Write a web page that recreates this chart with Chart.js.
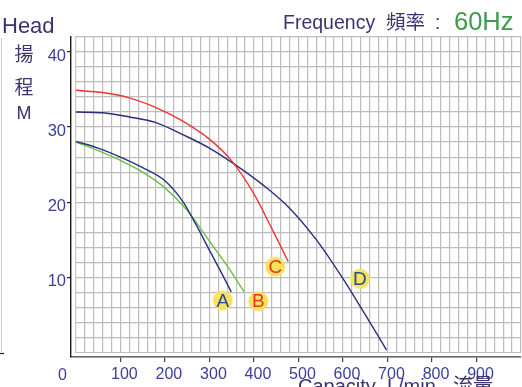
<!DOCTYPE html>
<html>
<head>
<meta charset="utf-8">
<script src="https://cdn.jsdelivr.net/npm/chart.js@4/dist/chart.umd.min.js"></script>
<style>
  html, body { margin: 0; padding: 0; background: #fff; overflow: hidden; }
  canvas { display: block; }
</style>
</head>
<body>
<canvas id="pumpChart" width="522" height="387"></canvas>
<script>
// Pump curves at 60Hz: capacity (L/min) against head (m)
const flowA = [0, 50, 100, 150, 200, 240, 270, 300, 325, 349];
const headA = [28.1, 27.2, 26.0, 24.6, 22.85, 20.1, 17.0, 13.6, 10.8, 8.05];

const flowB = [0, 50, 100, 150, 200, 250, 300, 340, 378];
const headB = [28.0, 26.85, 25.55, 24.0, 21.9, 18.9, 14.8, 11.5, 8.05];

const flowC = [0, 60, 120, 180, 240, 300, 350, 400, 440, 477];
const headC = [34.9, 34.6, 33.9, 32.6, 30.8, 28.4, 25.5, 21.1, 16.5, 12.1];

const flowD = [0, 60, 120, 180, 240, 300, 360, 420, 480, 540, 600, 650, 698];
const headD = [32.0, 31.9, 31.35, 30.6, 29.0, 27.2, 24.9, 22.3, 19.2, 15.0, 9.8, 5.0, 0.3];

// curve tags and where their badges sit
const curveNames = ['A', 'B', 'C', 'D'];
const tagFlow = [330, 410, 448, 638];
const tagHead = [6.9, 6.8, 11.4, 9.8];

const xTicks = [100, 200, 300, 400, 500, 600, 700, 800, 900];
const yTicks = [10, 20, 30, 40];

const TEXT = '#3c336f';
const TICK = '#3b3f9a';
const tagColors = { A: '#2c47a0', B: '#e8322a', C: '#e8322a', D: '#2c47a0' };

const pts = (xs, ys) => xs.map((x, i) => ({ x, y: ys[i] }));

const curve = (label, xs, ys, color) => ({
    label,
    data: pts(xs, ys),
    borderColor: color,
    borderWidth: 1.4,
    pointRadius: 0,
    cubicInterpolationMode: 'monotone',
    fill: false
});

// white gap between the axis lines and the grid
const gapPlugin = {
    id: 'gap',
    beforeDatasetsDraw(chart) {
        const { ctx, chartArea: a, scales } = chart;
        const x0 = scales.x.getPixelForValue(0);
        const y0 = scales.y.getPixelForValue(0);
        ctx.save();
        ctx.fillStyle = '#fff';
        ctx.fillRect(a.left + 0.8, a.top - 1, x0 - a.left - 1.5, a.bottom - a.top);
        ctx.fillRect(a.left + 0.8, y0 + 0.7, a.right - a.left + 2, a.bottom - y0 - 1.5);
        ctx.restore();
    }
};

const textPlugin = {
    id: 'texts',
    afterDraw(chart) {
        const ctx = chart.ctx;
        ctx.save();
        ctx.textBaseline = 'alphabetic';
        ctx.textAlign = 'left';

        ctx.fillStyle = TEXT;
        ctx.font = '22px "Liberation Sans"';
        ctx.fillText('Head', 2, 33);

        ctx.textAlign = 'center';
        ctx.textBaseline = 'middle';
        ctx.font = '19px "Noto Sans CJK TC"';
        ctx.fillText('揚', 24, 54);
        ctx.fillText('程', 24, 87);
        ctx.font = '18px "Liberation Sans"';
        ctx.fillText('M', 24, 114);

        ctx.textAlign = 'left';
        ctx.textBaseline = 'alphabetic';
        ctx.font = '19.5px "Liberation Sans"';
        ctx.fillText('Frequency', 283, 29);
        ctx.font = '19.5px "Noto Sans CJK TC"';
        ctx.fillText('頻率', 386, 29);
        ctx.font = '19.5px "Liberation Sans"';
        ctx.fillText(':', 435, 29);
        ctx.fillStyle = '#3d9b4b';
        ctx.font = '25.5px "Liberation Sans"';
        ctx.fillText('60Hz', 454, 30);

        ctx.fillStyle = TICK;
        ctx.font = '16px "Liberation Sans"';
        ctx.textAlign = 'center';
        ctx.fillText('0', 62.5, 380);

        ctx.fillStyle = TEXT;
        ctx.textAlign = 'left';
        ctx.font = '20px "Liberation Sans"';
        ctx.fillText('Capacity  L/min', 298, 393);
        ctx.font = '20px "Noto Sans CJK TC"';
        ctx.fillText('流量', 453, 393);

        // faint frame line on the far left
        ctx.strokeStyle = '#cfcfcf';
        ctx.lineWidth = 1.2;
        ctx.beginPath();
        ctx.moveTo(1.5, 38);
        ctx.lineTo(1.5, 352);
        ctx.stroke();
        ctx.strokeStyle = '#222';
        ctx.beginPath();
        ctx.moveTo(0, 353.5);
        ctx.lineTo(4, 353.5);
        ctx.stroke();

        // letters on the curve badges
        const meta = chart.getDatasetMeta(4);
        ctx.font = '19px "Liberation Sans"';
        ctx.textAlign = 'center';
        ctx.textBaseline = 'middle';
        meta.data.forEach((p, i) => {
            ctx.fillStyle = tagColors[curveNames[i]];
            ctx.fillText(curveNames[i], p.x, p.y + 1);
        });
        ctx.restore();
    }
};

new Chart(document.getElementById('pumpChart'), {
    type: 'line',
    data: {
        datasets: [
            curve('A', flowA, headA, '#2b2f7c'),
            curve('B', flowB, headB, '#6dbd45'),
            curve('C', flowC, headC, '#ee3333'),
            curve('D', flowD, headD, '#2b2f7c'),
            {
                label: 'tags',
                data: pts(tagFlow, tagHead),
                showLine: false,
                pointRadius: 9.5,
                pointHoverRadius: 9.5,
                pointBackgroundColor: '#f5e35a',
                pointBorderColor: 'rgba(245, 227, 90, 0.45)',
                pointBorderWidth: 2
            }
        ]
    },
    options: {
        responsive: false,
        animation: false,
        events: [],
        layout: { autoPadding: false, padding: { top: 37, right: 1, left: 0, bottom: 0 } },
        plugins: {
            legend: { display: false },
            tooltip: { enabled: false }
        },
        scales: {
            x: {
                type: 'linear',
                min: -11,
                max: 1000,
                afterBuildTicks: axis => {
                    const t = [];
                    for (let v = 0; v <= 1000; v += 20) t.push({ value: v });
                    axis.ticks = t;
                },
                afterFit: axis => {
                    axis.height = 30;
                    axis.paddingLeft = 0;
                    axis.paddingRight = 0;
                },
                grid: {
                    color: '#bdbdbd',
                    lineWidth: 1.2,
                    tickLength: 5,
                    tickColor: ctx => xTicks.includes(ctx.tick.value) ? '#444' : 'rgba(0,0,0,0)'
                },
                border: { color: '#444', width: 1.5 },
                ticks: {
                    autoSkip: false,
                    maxRotation: 0,
                    padding: 3,
                    labelOffset: 4,
                    color: TICK,
                    font: { family: 'Liberation Sans', size: 16 },
                    callback: v => xTicks.includes(v) ? String(v) : ''
                }
            },
            y: {
                type: 'linear',
                min: -0.63,
                max: 42,
                afterBuildTicks: axis => {
                    const t = [];
                    for (let v = 0; v <= 42; v += 2) t.push({ value: v });
                    axis.ticks = t;
                },
                afterFit: axis => {
                    axis.width = 71;
                    axis.paddingTop = 0;
                    axis.paddingBottom = 0;
                },
                grid: {
                    color: '#bdbdbd',
                    lineWidth: 1.2,
                    tickLength: 4,
                    tickColor: ctx => yTicks.includes(ctx.tick.value) ? '#222' : 'rgba(0,0,0,0)'
                },
                border: { color: '#1a1a1a', width: 1.5 },
                ticks: {
                    autoSkip: false,
                    padding: 1,
                    labelOffset: 4,
                    color: TICK,
                    font: { family: 'Liberation Sans', size: 16.5 },
                    callback: v => yTicks.includes(v) ? String(v) : ''
                }
            }
        }
    },
    plugins: [gapPlugin, textPlugin]
});
</script>
</body>
</html>
